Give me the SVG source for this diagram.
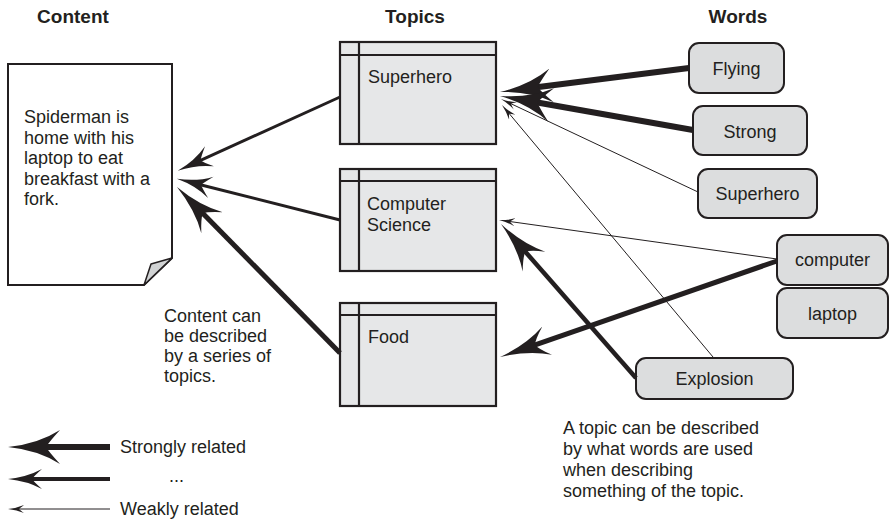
<svg xmlns="http://www.w3.org/2000/svg" width="889" height="526" viewBox="0 0 889 526">
<defs>
<style>
text{font-family:"Liberation Sans",Arial,sans-serif;fill:#231f20;}
.h{font-size:19px;font-weight:bold;text-anchor:middle;}
.t{font-size:18px;}
.w{font-size:18px;text-anchor:middle;}
.topic rect,.topic line{stroke:#231f20;stroke-width:2.2;}
.topic rect{fill:#e6e7e8;}
.word rect{fill:#dcddde;stroke:#231f20;stroke-width:2;}
.c{stroke:#231f20;fill:none;stroke-linecap:butt;}
.ah{fill:#231f20;}
</style>
<marker id="big" markerUnits="userSpaceOnUse" viewBox="0 -18 52 36" markerWidth="52" markerHeight="36" refX="27" refY="0" orient="auto">
<path class="ah" d="M52,0 Q22,-3 0,-17 Q11,-5 14,0 Q11,5 0,17 Q22,3 52,0 Z"/>
</marker>
<marker id="med" markerUnits="userSpaceOnUse" viewBox="0 -16 50 32" markerWidth="50" markerHeight="32" refX="28" refY="0" orient="auto">
<path class="ah" d="M50,0 Q21,-3 0,-15 Q11,-5 13,0 Q11,5 0,15 Q21,3 50,0 Z"/>
</marker>
<marker id="lg" markerUnits="userSpaceOnUse" viewBox="0 -11 34 22" markerWidth="34" markerHeight="22" refX="17" refY="0" orient="auto">
<path class="ah" d="M34,0 Q15,-2 0,-10 Q8,-3 10,0 Q8,3 0,10 Q15,2 34,0 Z"/>
</marker>
<marker id="left" markerUnits="userSpaceOnUse" viewBox="0 -12 35 24" markerWidth="35" markerHeight="24" refX="19" refY="0" orient="auto">
<path class="ah" d="M35,0 Q15,-2 0,-11 Q8,-3 10,0 Q8,3 0,11 Q15,2 35,0 Z"/>
</marker>
<marker id="sm" markerUnits="userSpaceOnUse" viewBox="0 -5 16 10" markerWidth="16" markerHeight="10" refX="8" refY="0" orient="auto">
<path class="ah" d="M16,0 Q7,-1 0,-4 Q4,-1 5,0 Q4,1 0,4 Q7,1 16,0 Z"/>
</marker>
</defs>
<rect width="889" height="526" fill="#ffffff"/>

<g id="headers">
<text class="h" x="73" y="23">Content</text>
<text class="h" x="415" y="23">Topics</text>
<text class="h" x="738" y="23">Words</text>
</g>

<g id="document">
<path d="M8,64 H172 V258 L144,285 H8 Z" fill="#ffffff" stroke="#231f20" stroke-width="2"/>
<path d="M172,258 L151,264 L144,285 Z" fill="#d1d3d4" stroke="#231f20" stroke-width="1.5" stroke-linejoin="round"/>
<text class="t" x="24" y="123">Spiderman is</text>
<text class="t" x="24" y="143.5">home with his</text>
<text class="t" x="24" y="164">laptop to eat</text>
<text class="t" x="24" y="184.5">breakfast with a</text>
<text class="t" x="24" y="205">fork.</text>
</g>

<g id="topic-superhero" class="topic">
<rect x="340" y="42" width="156" height="102"/>
<line x1="340" y1="55" x2="496" y2="55"/>
<line x1="359" y1="42" x2="359" y2="144"/>
<text class="t" x="368" y="83" stroke="none">Superhero</text>
</g>
<g id="topic-cs" class="topic">
<rect x="340" y="169" width="156" height="102"/>
<line x1="340" y1="181" x2="496" y2="181"/>
<line x1="359" y1="169" x2="359" y2="271"/>
<text class="t" x="367" y="210" stroke="none">Computer</text>
<text class="t" x="367" y="231" stroke="none">Science</text>
</g>
<g id="topic-food" class="topic">
<rect x="340" y="303" width="156" height="103"/>
<line x1="340" y1="315" x2="496" y2="315"/>
<line x1="359" y1="303" x2="359" y2="406"/>
<text class="t" x="368" y="343" stroke="none">Food</text>
</g>

<g id="word-flying" class="word">
<rect x="689" y="43" width="95" height="50" rx="10"/>
<text class="w" x="736.5" y="75">Flying</text>
</g>
<g id="word-strong" class="word">
<rect x="693" y="106" width="114" height="49" rx="10"/>
<text class="w" x="750" y="138">Strong</text>
</g>
<g id="word-superhero" class="word">
<rect x="698" y="169" width="119" height="49" rx="10"/>
<text class="w" x="757.5" y="200">Superhero</text>
</g>
<g id="word-computer" class="word">
<rect x="777" y="235" width="111" height="50" rx="10"/>
<text class="w" x="832.5" y="266">computer</text>
</g>
<g id="word-laptop" class="word">
<rect x="777" y="288" width="111" height="50" rx="10"/>
<text class="w" x="832.5" y="320">laptop</text>
</g>
<g id="word-explosion" class="word">
<rect x="636" y="358" width="157" height="41" rx="10"/>
<text class="w" x="714.5" y="385">Explosion</text>
</g>

<g id="connectors">
<line class="c" x1="689" y1="68" x2="524.8" y2="88.85" stroke-width="6" marker-end="url(#big)"/>
<line class="c" x1="693" y1="130" x2="524.6" y2="100.3" stroke-width="6" marker-end="url(#big)"/>
<line class="c" x1="698" y1="192" x2="508.2" y2="102.4" stroke-width="1" marker-end="url(#sm)"/>
<line class="c" x1="713" y1="357" x2="507.1" y2="111.1" stroke-width="1" marker-end="url(#sm)"/>
<line class="c" x1="777" y1="259" x2="506.9" y2="221.1" stroke-width="1" marker-end="url(#sm)"/>
<line class="c" x1="636" y1="378" x2="515.5" y2="240.5" stroke-width="4.5" marker-end="url(#med)"/>
<line class="c" x1="777" y1="261" x2="520.8" y2="349.8" stroke-width="5" marker-end="url(#med)"/>
<line class="c" x1="340" y1="97" x2="192.3" y2="164.2" stroke-width="3" marker-end="url(#left)"/>
<line class="c" x1="340" y1="220" x2="192.4" y2="182.7" stroke-width="3" marker-end="url(#left)"/>
<line class="c" x1="340" y1="353" x2="192.4" y2="202.7" stroke-width="5" marker-end="url(#med)"/>
</g>

<g id="notes">
<text class="t" x="164" y="322">Content can</text>
<text class="t" x="164" y="342">be described</text>
<text class="t" x="164" y="362">by a series of</text>
<text class="t" x="164" y="382">topics.</text>
<text class="t" x="563" y="434">A topic can be described</text>
<text class="t" x="563" y="455">by what words are used</text>
<text class="t" x="563" y="476">when describing</text>
<text class="t" x="563" y="497">something of the topic.</text>
</g>

<g id="legend">
<line class="c" x1="110" y1="447" x2="33" y2="447" stroke-width="6" marker-end="url(#big)"/>
<line class="c" x1="110" y1="479" x2="25" y2="479" stroke-width="4" marker-end="url(#lg)"/>
<line class="c" x1="110" y1="509" x2="16" y2="509" stroke-width="1" marker-end="url(#sm)"/>
<text class="t" x="120" y="453">Strongly related</text>
<text class="t" x="169" y="482">...</text>
<text class="t" x="120" y="515">Weakly related</text>
</g>
</svg>
